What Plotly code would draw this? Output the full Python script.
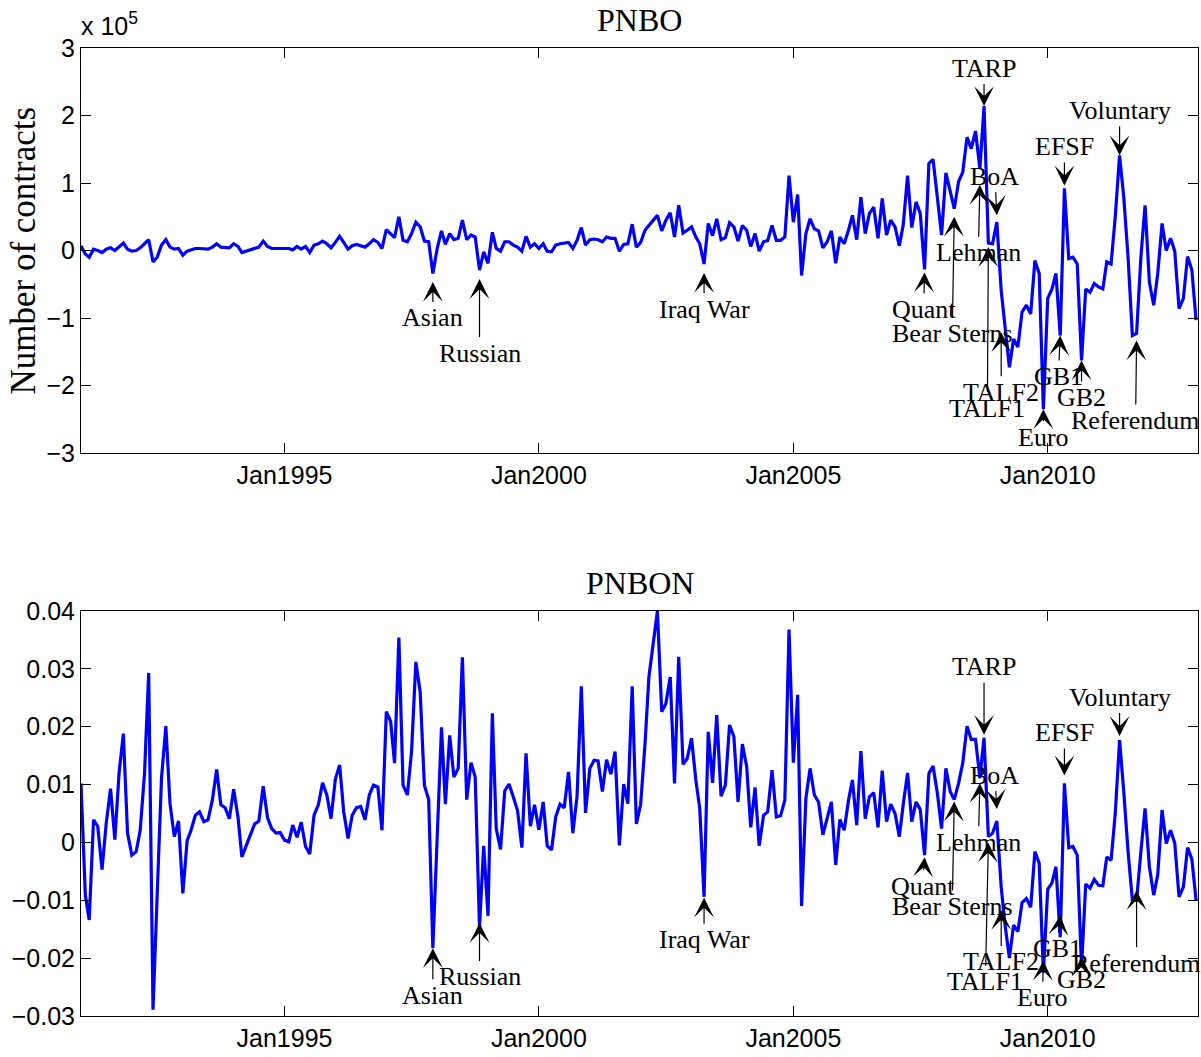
import pandas as pd
import plotly.graph_objects as go

# ---------------- data (monthly, Jan 1991 - Dec 2012) ----------------
start_month = "1991-01-01"

# PNBO, number of contracts in units of 1e5
pnbo_1e5 = [
    0.07, -0.05, -0.10, 0.02, 0.00, -0.03, 0.02, 0.04, 0.00, 0.05, 0.11, 0.02,      # 1991
    -0.01, 0.00, 0.04, 0.10, 0.16, -0.17, -0.10, 0.08, 0.16, 0.05, 0.02, 0.03,      # 1992
    -0.07, -0.01, 0.01, 0.03, 0.03, 0.02, 0.02, 0.05, 0.10, 0.05, 0.05, 0.04,       # 1993
    0.10, 0.06, -0.03, -0.01, 0.02, 0.04, 0.05, 0.14, 0.06, 0.03, 0.03, 0.03,       # 1994
    0.02, 0.03, 0.01, 0.06, 0.02, 0.06, -0.03, 0.08, 0.10, 0.14, 0.10, 0.04,       # 1995
    0.12, 0.21, 0.12, 0.02, 0.07, 0.09, 0.07, 0.05, 0.10, 0.16, 0.12, 0.03,        # 1996
    0.31, 0.25, 0.19, 0.50, 0.15, 0.13, 0.25, 0.42, 0.35, 0.14, 0.13, -0.34,       # 1997
    0.03, 0.29, 0.09, 0.25, 0.16, 0.18, 0.45, 0.16, 0.23, 0.20, -0.29, -0.02,      # 1998
    -0.19, 0.27, 0.03, -0.01, 0.13, 0.13, 0.08, 0.05, -0.01, 0.21, 0.05, 0.10,     # 1999
    0.03, 0.10, -0.01, -0.02, 0.08, 0.10, 0.11, 0.12, 0.03, 0.15, 0.34, 0.08,      # 2000
    0.16, 0.17, 0.16, 0.13, 0.20, 0.18, 0.18, -0.01, 0.09, 0.10, 0.39, 0.05,       # 2001
    0.12, 0.30, 0.37, 0.45, 0.52, 0.29, 0.45, 0.56, 0.20, 0.67, 0.26, 0.30,        # 2002
    0.35, 0.20, 0.10, -0.20, 0.40, 0.22, 0.47, 0.16, 0.19, 0.41, 0.35, 0.14,       # 2003
    0.37, 0.30, 0.06, 0.25, -0.01, 0.13, 0.15, 0.37, 0.15, 0.15, 0.20, 1.11,       # 2004
    0.42, 0.83, -0.37, 0.25, 0.47, 0.32, 0.29, 0.04, 0.13, 0.29, -0.19, 0.20,      # 2005
    0.10, 0.30, 0.52, 0.16, 0.79, 0.25, 0.55, 0.64, 0.18, 0.77, 0.23, 0.45,        # 2006
    0.35, 0.07, 0.38, 1.11, 0.34, 0.72, 0.55, -0.28, 1.29, 1.35, 0.79, 0.23,       # 2007
    1.15, 0.87, 0.62, 1.02, 1.16, 1.68, 1.51, 1.77, 1.21, 2.14, 0.11, 0.10,        # 2008
    0.42, -0.59, -1.13, -1.73, -1.31, -1.43, -0.91, -0.81, -0.94, -0.15, -0.34, -2.35,  # 2009
    -0.71, -0.57, -0.34, -1.26, 0.92, -0.12, -0.10, -0.20, -1.63, -0.57, -0.62, -0.49,  # 2010
    -0.54, -0.57, -0.17, -0.20, 0.50, 1.41, 0.79, -0.10, -1.26, -1.23, -0.10, 0.67,     # 2011
    -0.47, -0.81, -0.34, 0.40, 0.00, 0.18, -0.01, -0.86, -0.71, -0.09, -0.29, -1.03,    # 2012
]

# PNBON, read in units of 0.01
pnbon_hundredths = [
    1.02, -0.91, -1.34, 0.39, 0.28, -0.47, 0.33, 0.93, 0.05, 1.19, 1.88, 0.16,     # 1991
    -0.22, -0.16, 0.21, 1.19, 2.93, -2.89, -0.90, 1.11, 2.01, 0.67, 0.10, 0.37,    # 1992
    -0.88, 0.03, 0.21, 0.47, 0.53, 0.36, 0.39, 0.73, 1.26, 0.65, 0.60, 0.41,       # 1993
    0.92, 0.44, -0.25, -0.07, 0.13, 0.32, 0.37, 0.97, 0.43, 0.24, 0.16, 0.17,      # 1994
    0.04, 0.01, 0.30, 0.09, 0.35, -0.07, -0.20, 0.47, 0.65, 1.03, 0.82, 0.41,      # 1995
    1.09, 1.34, 0.53, 0.07, 0.47, 0.60, 0.62, 0.39, 0.82, 0.99, 0.96, 0.21,        # 1996
    2.26, 2.09, 1.37, 3.54, 0.99, 0.82, 1.57, 3.12, 2.60, 0.99, 0.74, -1.83,       # 1997
    0.10, 1.99, 0.66, 1.85, 1.13, 1.28, 3.20, 0.74, 1.38, 1.13, -1.46, -0.06,      # 1998
    -1.27, 2.23, 0.24, -0.12, 0.89, 1.01, 0.79, 0.55, -0.09, 1.54, 0.28, 0.65,     # 1999
    0.22, 0.70, -0.06, -0.13, 0.44, 0.66, 0.60, 1.22, 0.16, 0.79, 2.70, 0.51,      # 2000
    1.28, 1.42, 1.41, 0.88, 1.43, 1.18, 1.57, -0.05, 1.01, 0.67, 2.70, 0.32,       # 2001
    0.66, 1.70, 2.86, 3.44, 4.00, 2.26, 2.40, 2.86, 1.02, 3.21, 1.35, 1.45,        # 2002
    1.80, 1.08, 0.59, -0.94, 1.91, 1.03, 2.20, 0.80, 0.99, 2.03, 1.83, 0.70,       # 2003
    1.70, 1.31, 0.26, 0.95, -0.06, 0.47, 0.53, 1.25, 0.44, 0.46, 0.73, 3.68,       # 2004
    1.38, 2.55, -1.10, 0.76, 1.28, 0.82, 0.70, 0.13, 0.41, 0.70, -0.39, 0.40,      # 2005
    0.21, 0.73, 1.08, 0.30, 1.58, 0.41, 0.79, 0.86, 0.26, 1.24, 0.36, 0.66,        # 2006
    0.50, 0.10, 0.66, 1.20, 0.36, 0.70, 0.57, -0.22, 1.19, 1.32, 0.85, 0.24,       # 2007
    1.28, 0.88, 0.74, 1.02, 1.37, 2.01, 1.78, 1.78, 1.11, 1.81, 0.10, 0.16,        # 2008
    0.37, -0.77, -1.43, -2.00, -1.43, -1.54, -1.04, -0.97, -1.12, -0.16, -0.36, -2.25,  # 2009
    -0.81, -0.70, -0.42, -1.64, 1.02, -0.09, -0.07, -0.22, -2.15, -0.72, -0.79, -0.64,  # 2010
    -0.74, -0.75, -0.25, -0.31, 0.50, 1.77, 0.88, -0.16, -1.00, -1.00, -0.16, 0.59,     # 2011
    -0.42, -0.91, -0.56, 0.56, -0.02, 0.21, -0.01, -0.94, -0.77, -0.09, -0.29, -1.00,   # 2012
]

# x tick labels
x_tick_dates = ["1995-01-01", "2000-01-01", "2005-01-01", "2010-01-01"]
x_tick_labels = ["Jan1995", "Jan2000", "Jan2005", "Jan2010"]

# y tick labels
top_y_ticks = [-3, -2, -1, 0, 1, 2, 3]
bottom_y_ticks = [-0.03, -0.02, -0.01, 0, 0.01, 0.02, 0.03, 0.04]
bottom_y_labels = ["\u22120.03", "\u22120.02", "\u22120.01", "0", "0.01", "0.02", "0.03", "0.04"]

# events
event_labels = ["Asian", "Russian", "Iraq War", "Quant", "Bear Sterns", "Lehman", "TARP", "BoA",
                "TALF1", "TALF2", "Euro", "EFSF", "GB1", "GB2", "Voluntary", "Referendum"]
event_dates = ["1997-12-01", "1998-11-01", "2003-04-01", "2007-08-01", "2008-03-01", "2008-09-01",
               "2008-10-01", "2009-01-01", "2008-11-01", "2009-02-01", "2009-12-01", "2010-05-01",
               "2010-04-01", "2010-09-01", "2011-06-01", "2011-10-01"]

# ---------------- layout helpers (label offsets in pixels: ax, ay, yshift) ----------------
top_offsets = [(0, 36, -8.5), (0, 74, -9), (0, 36, -9), (-1, 37, -3), (-2, 117, -8), (-1.5, 68, -16),
               (0, -38, 0), (-2, -39, 7), (-1, 161, -4), (0, 60, -42), (0, 28, 0), (0, -39, 3),
               (-2, 41, 0), (0, 37, 0), (0, -45, 0), (-1, 80, -7)]
bottom_offsets = [(0, 47, 0), (0, 54, 4), (0, 42, -1), (-2, 29, -2), (-2, 105, -2), (-1.5, 59, -5),
                  (0, -68, 3), (-2, -34, 12), (-3, 139, -6), (0, 52, -23), (-1, 37, 12), (0, -43, 8),
                  (-3, 33, 22), (0, 23, 10), (0, -39, 4), (0, 73, 10)]

dates = pd.date_range(start_month, periods=len(pnbo_1e5), freq="MS")
pnbon = [v / 100.0 for v in pnbon_hundredths]

SERIF = "Liberation Serif"
SANS = "Liberation Sans"

fig = go.Figure()
fig.add_trace(go.Scatter(x=dates, y=pnbo_1e5, mode="lines", line=dict(color="#0000FF", width=3.2),
                         xaxis="x", yaxis="y", showlegend=False))
fig.add_trace(go.Scatter(x=dates, y=pnbon, mode="lines", line=dict(color="#0000FF", width=3.2),
                         xaxis="x2", yaxis="y2", showlegend=False))


def event_annotations(series, xref, yref, offsets):
    anns = []
    for label, d, (ax, ay, ys) in zip(event_labels, event_dates, offsets):
        k = dates.get_loc(pd.Timestamp(d))
        anns.append(dict(
            x=d, y=series[k], xref=xref, yref=yref, text=label,
            showarrow=True, arrowhead=3, arrowsize=2.75, arrowwidth=1.2, arrowcolor="black",
            ax=ax, ay=ay, yshift=ys, standoff=0,
            font=dict(family=SERIF, size=26, color="black"),
        ))
    return anns


annotations = []
annotations += event_annotations(pnbo_1e5, "x", "y", top_offsets)
annotations += event_annotations(pnbon, "x2", "y2", bottom_offsets)

# titles
annotations.append(dict(text="PNBO", xref="x domain", yref="y domain", x=0.5, y=1,
                        yanchor="middle", yshift=28, showarrow=False,
                        font=dict(family=SERIF, size=32, color="black")))
annotations.append(dict(text="PNBON", xref="x2 domain", yref="y2 domain", x=0.5, y=1,
                        yanchor="middle", yshift=28, showarrow=False,
                        font=dict(family=SERIF, size=32, color="black")))
# y-axis label
annotations.append(dict(text="Number of contracts", xref="x domain", yref="y domain", x=0, y=0.5,
                        xanchor="center", yanchor="middle", xshift=-57, textangle=-90,
                        showarrow=False, font=dict(family=SERIF, size=35, color="black")))
# exponent label
annotations.append(dict(text="x 10<sup>5</sup>", xref="x domain", yref="y domain", x=0, y=1,
                        xanchor="left", yanchor="middle", yshift=24, xshift=-2, showarrow=False,
                        font=dict(family=SANS, size=25, color="black")))

axis_common = dict(showgrid=False, zeroline=False, showline=True, linecolor="black", linewidth=1,
                   mirror="ticks", ticks="inside", ticklen=10, tickwidth=1, tickcolor="black",
                   tickfont=dict(family=SANS, size=25, color="black"))

x_range = ["1991-01-01", "2012-12-15"]

fig.update_layout(
    width=1201, height=1057,
    margin=dict(l=81, r=3, t=48, b=41),
    paper_bgcolor="white", plot_bgcolor="white",
    showlegend=False,
    xaxis=dict(domain=[0, 1], anchor="y", type="date", range=x_range,
               tickvals=x_tick_dates, ticktext=x_tick_labels, **axis_common),
    yaxis=dict(domain=[0.5816, 1.0], anchor="x", range=[-3, 3], tickvals=top_y_ticks,
               ticktext=[str(t).replace("-", "\u2212") for t in top_y_ticks], **axis_common),
    xaxis2=dict(domain=[0, 1], anchor="y2", type="date", range=x_range,
                tickvals=x_tick_dates, ticktext=x_tick_labels, **axis_common),
    yaxis2=dict(domain=[0.0, 0.4184], anchor="x2", range=[-0.03, 0.04], tickvals=bottom_y_ticks,
                ticktext=bottom_y_labels, **axis_common),
    annotations=annotations,
)

fig.write_html("out.html", config={"displayModeBar": False},
               post_script="document.body.style.margin='0';")
